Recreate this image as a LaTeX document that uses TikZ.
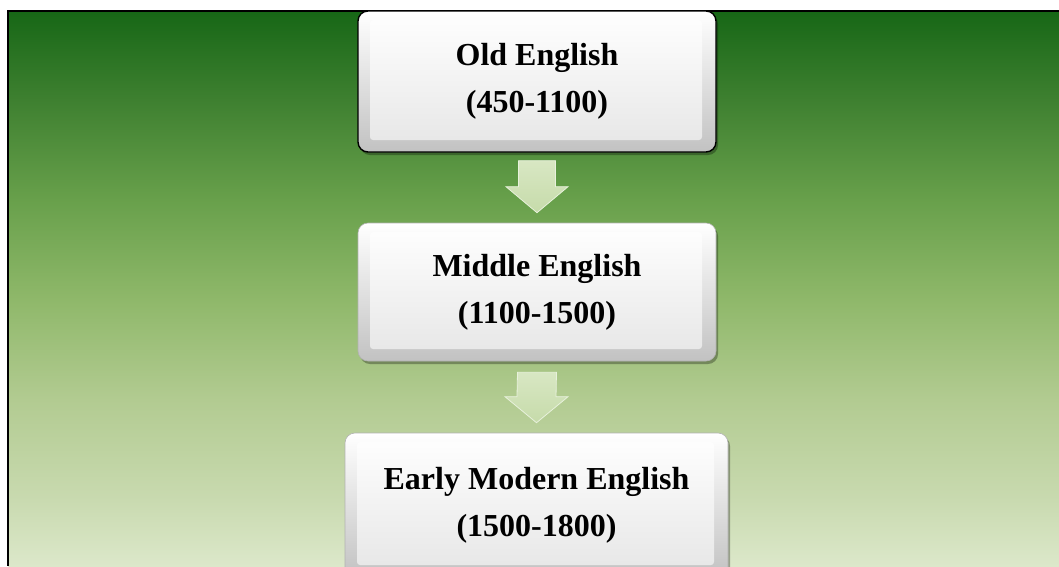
\documentclass[tikz,border=0pt]{standalone}
\usepackage{fontspec}
\setmainfont{Liberation Serif}
\usetikzlibrary{calc,shadows}

% green backdrop colours, from the bottom of the panel to its top
\definecolor{bgA}{HTML}{DCE8CA}
\definecolor{bgB}{HTML}{C9DAB0}
\definecolor{bgC}{HTML}{B2CB91}
\definecolor{bgD}{HTML}{8FB86A}
\definecolor{bgE}{HTML}{68A04B}
\definecolor{bgF}{HTML}{3E8030}
\definecolor{bgG}{HTML}{176716}
\definecolor{arrowTop}{HTML}{D8E7C3}
\definecolor{arrowBot}{HTML}{C6DBAA}
\definecolor{arrowEdge}{HTML}{E8F1DC}

% the central 25bp--75bp band is stretched over the shaded path
\pgfdeclareverticalshading{meadow}{100bp}{%
  color(0bp)=(bgA); color(25bp)=(bgA); color(30.9bp)=(bgB);
  color(40bp)=(bgC); color(49bp)=(bgD); color(58bp)=(bgE);
  color(67bp)=(bgF); color(75bp)=(bgG); color(100bp)=(bgG)}

\tikzset{
  era/.style={
    rounded corners=10pt, minimum width=358pt, minimum height=140pt,
    inner sep=0pt, align=center,
    font=\fontsize{32pt}{47pt}\selectfont\bfseries,
    top color=white, bottom color=black!24,
    draw=black!30, line width=0.6pt,
    drop shadow={shadow xshift=2pt, shadow yshift=-3pt, opacity=0.3, fill=black},
    path picture={
      \shade[top color=white, bottom color=black!10, rounded corners=3pt]
        ([shift={(12pt,-9pt)}]path picture bounding box.north west)
        rectangle ([shift={(-14pt,12pt)}]path picture bounding box.south east);
    }
  },
  blockarrow/.style={
    top color=arrowTop, bottom color=arrowBot,
    draw=arrowEdge, line width=0.8pt, line join=miter
  }
}

\begin{document}
\begin{tikzpicture}[x=1pt, y=1pt]
  \useasboundingbox (0,0) rectangle (1059,-566);
  \clip (0,0) rectangle (1059,-566);

  % backdrop panel with its top and left rule
  \shade[shading=meadow] (8,-11) rectangle (1059,-566);
  \draw[line width=2pt] (8,-566) -- (8,-11) -- (1059,-11);

  % the three periods
  \node[era, draw=black, line width=1.4pt, minimum height=141pt]
    (oe) at (537,-81.5) {Old English\\(450-1100)};
  \node[era, minimum height=138pt]
    (me) at (537,-292) {Middle English\\(1100-1500)};
  \node[era, minimum width=383pt, minimum height=144pt]
    (eme) at (536.5,-505) {Early Modern English\\(1500-1800)};

  % block arrows between consecutive periods
  \coordinate (a1t) at ($(oe.south)+(0,-8)$);
  \coordinate (a1b) at ($(me.north)+(0,10)$);
  \coordinate (a2t) at ($(me.south)+(0,-11)$);
  \coordinate (a2b) at ($(eme.north)+(0,10)$);

  \path[blockarrow]
    ($(a1t)+(-18.5,0)$) -- ($(a1t)+(18.5,0)$) -- ($(a1b)+(18.5,26)$)
    -- ($(a1b)+(31,26)$) -- (a1b) -- ($(a1b)+(-31,26)$)
    -- ($(a1b)+(-18.5,26)$) -- cycle;
  \path[blockarrow]
    ($(a2t)+(-19.5,0)$) -- ($(a2t)+(19.5,0)$) -- ($(a2b)+(19.5,26)$)
    -- ($(a2b)+(31.5,26)$) -- (a2b) -- ($(a2b)+(-31.5,26)$)
    -- ($(a2b)+(-19.5,26)$) -- cycle;
\end{tikzpicture}
\end{document}
